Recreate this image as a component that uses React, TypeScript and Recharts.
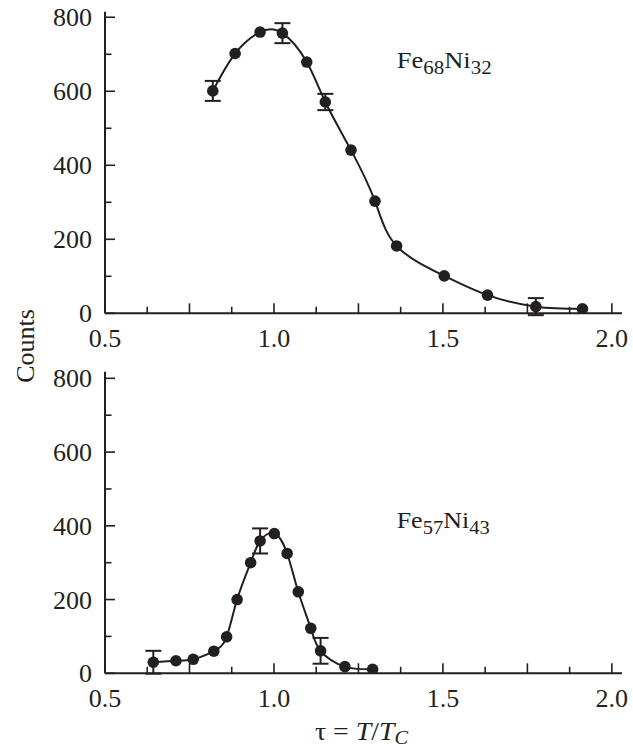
import { ComposedChart, ErrorBar, Line, Scatter, XAxis, YAxis } from 'recharts'

const INK = '#231f20'
const FONT = "'Liberation Serif', serif"

// axis ticks: minor every 0.125 / 100, labels every 0.5 / 200
const TAU_TICKS = [0.5, 0.625, 0.75, 0.875, 1.0, 1.125, 1.25, 1.375, 1.5, 1.625, 1.75, 1.875, 2.0]
const TAU_LABELS = [0.5, 1.0, 1.5, 2.0]
const COUNT_TICKS = [0, 100, 200, 300, 400, 500, 600, 700, 800]
const COUNT_LABELS = [0, 200, 400, 600, 800]

// Fe68Ni32 (upper panel)
const tau68 = [0.819, 0.885, 0.959, 1.025, 1.097, 1.152, 1.228, 1.299, 1.363, 1.504, 1.632, 1.775, 1.913]
const counts68 = [601, 702, 760, 757, 679, 571, 441, 303, 182, 101, 49, 18, 12]
const err68 = [27, null, null, 27, null, 22, null, null, null, null, null, 23, null]

// Fe57Ni43 (lower panel)
const tau57 = [0.643, 0.71, 0.761, 0.822, 0.86, 0.891, 0.931, 0.959, 1.001, 1.039, 1.072, 1.109, 1.138, 1.21, 1.292]
const counts57 = [30, 34, 38, 60, 99, 200, 300, 359, 379, 325, 221, 122, 61, 18, 11]
const err57 = [31, null, null, null, null, null, null, 34, null, null, null, null, 35, null, null]

type Row = { tau: number; counts: number; err: number | null }

const rows = (t: number[], c: number[], e: (number | null)[]): Row[] =>
  t.map((tau, i) => ({ tau, counts: c[i], err: e[i] }))

const txt = { fontFamily: FONT, fill: INK }

function TauTick({ x, y, payload }: any) {
  const v = payload.value as number
  const major = Math.abs(v * 4 - Math.round(v * 4)) < 1e-6
  return (
    <g>
      <line x1={x} x2={x} y1={y} y2={y - (major ? 10 : 6.5)} stroke={INK} strokeWidth={1.6} />
      {TAU_LABELS.includes(v) && (
        <text x={x} y={y + 34} textAnchor="middle" fontSize={26} style={txt}>
          {v.toFixed(1)}
        </text>
      )}
    </g>
  )
}

function CountTick({ x, y, payload }: any) {
  const v = payload.value as number
  const major = COUNT_LABELS.includes(v)
  return (
    <g>
      <line x1={x} x2={x + (major ? 10 : 6.5)} y1={y} y2={y} stroke={INK} strokeWidth={1.6} />
      {major && (
        <text x={x - 13} y={y + 9} textAnchor="end" fontSize={26} style={txt}>
          {v}
        </text>
      )}
    </g>
  )
}

const Dot = (p: any) => <circle cx={p.cx} cy={p.cy} r={5.8} fill={INK} />

function Panel({ data, height, xHeight, yMax }: { data: Row[]; height: number; xHeight: number; yMax: number }) {
  return (
    <ComposedChart width={633} height={height} data={data} margin={{ top: 11.7, right: 11, left: 0, bottom: 0 }}>
      <XAxis
        dataKey="tau"
        type="number"
        domain={[0.5, 2.03]}
        allowDataOverflow
        ticks={TAU_TICKS}
        interval={0}
        height={xHeight}
        tickSize={0}
        tickMargin={0}
        tick={TauTick}
        axisLine={{ stroke: INK, strokeWidth: 2 }}
      />
      <YAxis
        type="number"
        domain={[0, yMax]}
        allowDataOverflow
        ticks={COUNT_TICKS}
        interval={0}
        width={105}
        tickSize={0}
        tickMargin={0}
        tick={CountTick}
        axisLine={{ stroke: INK, strokeWidth: 2 }}
      />
      <Line
        dataKey="counts"
        type="natural"
        stroke={INK}
        strokeWidth={2}
        dot={false}
        activeDot={false}
        isAnimationActive={false}
      />
      <Scatter dataKey="counts" shape={Dot} isAnimationActive={false}>
        <ErrorBar dataKey="err" direction="y" width={8} stroke={INK} strokeWidth={2} />
      </Scatter>
    </ComposedChart>
  )
}

export default function App() {
  return (
    <div style={{ position: 'absolute', left: 0, top: 0, width: 633, height: 748, background: '#fff' }}>
      <div style={{ position: 'absolute', left: 0, top: 0 }}>
        <Panel data={rows(tau68, counts68, err68)} height={360} xHeight={46.7} yMax={815} />
      </div>
      <div style={{ position: 'absolute', left: 0, top: 360 }}>
        <Panel data={rows(tau57, counts57, err57)} height={388} xHeight={74.7} yMax={818} />
      </div>
      <svg
        width={633}
        height={748}
        style={{ position: 'absolute', left: 0, top: 0, pointerEvents: 'none', ...txt }}
      >
        <text x={396.7} y={68.3} fontSize={24} textLength={95} lengthAdjust="spacingAndGlyphs" style={txt}>
          Fe<tspan fontSize={19} dy={6}>68</tspan>
          <tspan fontSize={24} dy={-6}>Ni</tspan>
          <tspan fontSize={19} dy={6}>32</tspan>
        </text>
        <text x={396.7} y={528.3} fontSize={24} textLength={93} lengthAdjust="spacingAndGlyphs" style={txt}>
          Fe<tspan fontSize={19} dy={6}>57</tspan>
          <tspan fontSize={24} dy={-6}>Ni</tspan>
          <tspan fontSize={19} dy={6}>43</tspan>
        </text>
        <text transform="translate(34,346) rotate(-90)" textAnchor="middle" fontSize={26} style={txt}>
          Counts
        </text>
        <text x={315} y={740} fontSize={26} textLength={93} lengthAdjust="spacingAndGlyphs" style={txt}>
          τ = <tspan fontStyle="italic">T</tspan>/<tspan fontStyle="italic">T</tspan>
          <tspan fontStyle="italic" fontSize={19} dy={4}>C</tspan>
        </text>
      </svg>
    </div>
  )
}
